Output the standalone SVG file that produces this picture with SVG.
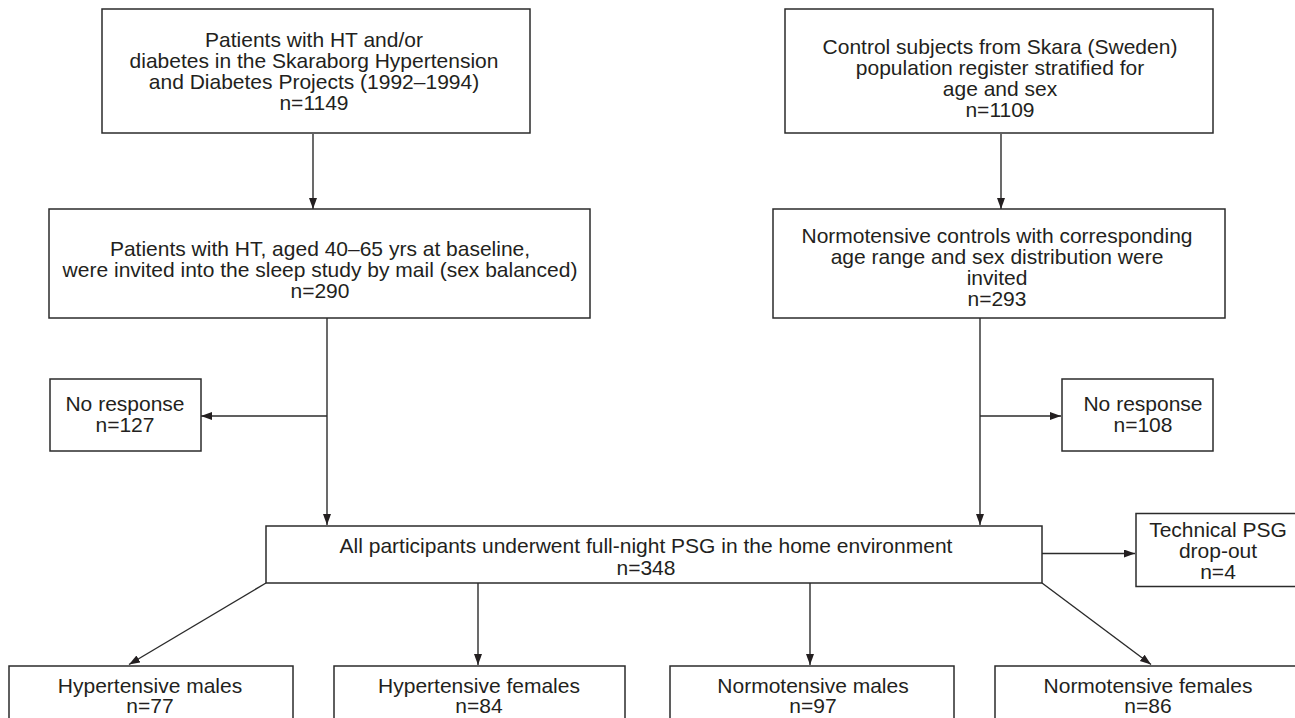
<svg xmlns="http://www.w3.org/2000/svg" width="1295" height="718" viewBox="0 0 1295 718">
<style>
  .box { fill: #ffffff; stroke: #2b2b2b; stroke-width: 1.5; }
  .t { font-family: "Liberation Sans", Arial, sans-serif; font-size: 21px; fill: #231f20; text-anchor: middle; }
  .c { fill: none; stroke: #2b2b2b; stroke-width: 1.4; }
  .a { marker-end: url(#arr); }
</style>
<defs>
  <marker id="arr" markerUnits="userSpaceOnUse" markerWidth="12" markerHeight="9" refX="11" refY="4" orient="auto">
    <path d="M0,0 L11,4 L0,8 z" fill="#231f20"/>
  </marker>
</defs>
<rect width="1295" height="718" fill="#ffffff"/>

<g id="connectors">
  <path class="c a" d="M313,134 V209"/>
  <path class="c a" d="M1001,134 V209"/>
  <path class="c a" d="M327,318 V525"/>
  <path class="c a" d="M327,416 H201"/>
  <path class="c a" d="M980,318 V525"/>
  <path class="c a" d="M980,416 H1061"/>
  <path class="c a" d="M1042,553.5 H1135"/>
  <path class="c a" d="M266,583 L129,664.5"/>
  <path class="c a" d="M478,583 V665"/>
  <path class="c a" d="M810,583 V665"/>
  <path class="c a" d="M1042,583 L1151,664.5"/>
</g>

<g id="n-patients">
  <rect class="box" x="102" y="9" width="428" height="124"/>
  <text class="t" x="314" y="47">Patients with HT and/or</text>
  <text class="t" x="314" y="68">diabetes in the Skaraborg Hypertension</text>
  <text class="t" x="314" y="89">and Diabetes Projects (1992–1994)</text>
  <text class="t" x="314" y="110">n=1149</text>
</g>

<g id="n-controls">
  <rect class="box" x="785" y="9" width="428" height="124"/>
  <text class="t" x="1000" y="54">Control subjects from Skara (Sweden)</text>
  <text class="t" x="1000" y="75">population register stratified for</text>
  <text class="t" x="1000" y="96">age and sex</text>
  <text class="t" x="1000" y="117">n=1109</text>
</g>

<g id="n-ht-invited">
  <rect class="box" x="49" y="209" width="541" height="109"/>
  <text class="t" x="320" y="256">Patients with HT, aged 40–65 yrs at baseline,</text>
  <text class="t" x="320" y="277">were invited into the sleep study by mail (sex balanced)</text>
  <text class="t" x="320" y="298">n=290</text>
</g>

<g id="n-nt-invited">
  <rect class="box" x="773" y="209" width="452" height="109"/>
  <text class="t" x="997" y="243">Normotensive controls with corresponding</text>
  <text class="t" x="997" y="264">age range and sex distribution were</text>
  <text class="t" x="997" y="285">invited</text>
  <text class="t" x="997" y="306">n=293</text>
</g>

<g id="n-noresp-left">
  <rect class="box" x="50" y="379" width="151" height="72"/>
  <text class="t" x="125" y="410.5">No response</text>
  <text class="t" x="125" y="431.5">n=127</text>
</g>

<g id="n-noresp-right">
  <rect class="box" x="1062" y="379" width="151" height="72"/>
  <text class="t" x="1143" y="410.5">No response</text>
  <text class="t" x="1143" y="431.5">n=108</text>
</g>

<g id="n-psg">
  <rect class="box" x="266" y="526" width="776" height="57"/>
  <text class="t" x="646" y="553">All participants underwent full-night PSG in the home environment</text>
  <text class="t" x="646" y="575">n=348</text>
</g>

<g id="n-dropout">
  <rect class="box" x="1136" y="513.5" width="170" height="73"/>
  <text class="t" x="1218" y="537">Technical PSG</text>
  <text class="t" x="1218" y="558">drop-out</text>
  <text class="t" x="1218" y="579">n=4</text>
</g>

<g id="n-ht-males">
  <rect class="box" x="9" y="666" width="284" height="70"/>
  <text class="t" x="150" y="692.5">Hypertensive males</text>
  <text class="t" x="150" y="713">n=77</text>
</g>

<g id="n-ht-females">
  <rect class="box" x="334" y="666" width="291" height="70"/>
  <text class="t" x="479" y="692.5">Hypertensive females</text>
  <text class="t" x="479" y="713">n=84</text>
</g>

<g id="n-nt-males">
  <rect class="box" x="670" y="666" width="284" height="70"/>
  <text class="t" x="813" y="692.5">Normotensive males</text>
  <text class="t" x="813" y="713">n=97</text>
</g>

<g id="n-nt-females">
  <rect class="box" x="995" y="666" width="312" height="70"/>
  <text class="t" x="1148" y="692.5">Normotensive females</text>
  <text class="t" x="1148" y="713">n=86</text>
</g>
</svg>
